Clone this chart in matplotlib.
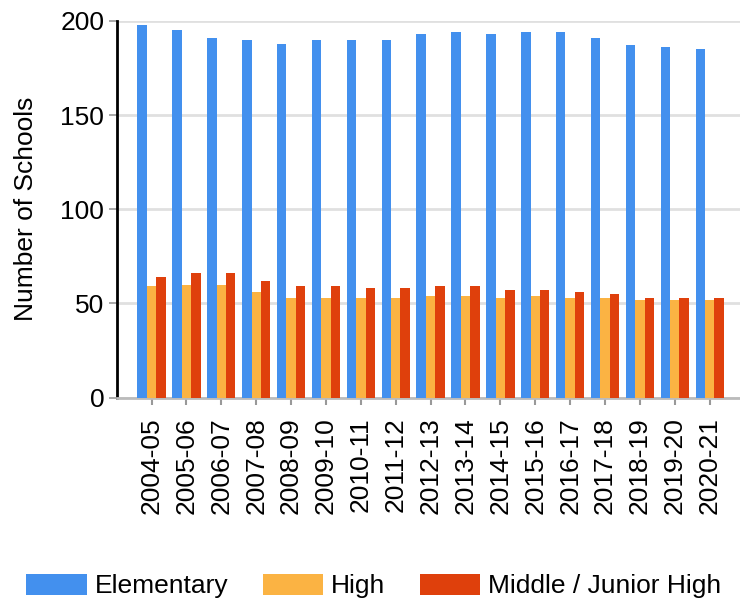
import matplotlib
matplotlib.use('Agg')

import numpy as np
import matplotlib.pyplot as plt

plt.rcParams['font.family'] = ['Liberation Sans', 'DejaVu Sans']

years = ['2004-05', '2005-06', '2006-07', '2007-08', '2008-09', '2009-10',
         '2010-11', '2011-12', '2012-13', '2013-14', '2014-15', '2015-16',
         '2016-17', '2017-18', '2018-19', '2019-20', '2020-21']
elementary = [198, 195, 191, 190, 188, 190, 190, 190, 193, 194, 193, 194, 194, 191, 187, 186, 185]
high = [59, 60, 60, 56, 53, 53, 53, 53, 54, 54, 53, 54, 53, 53, 52, 52, 52]
middle = [64, 66, 66, 62, 59, 59, 58, 58, 59, 59, 57, 57, 56, 55, 53, 53, 53]

series = [('Elementary', elementary, '#4390EE'),
          ('High', high, '#FBB343'),
          ('Middle / Junior High', middle, '#DF400C')]

fs = 19

fig = plt.figure(figsize=(7.4, 6.05), dpi=100)
ax = fig.add_axes([116.7 / 740, 1 - 397.5 / 605, (740 - 116.7) / 740, (397.5 - 21) / 605])

x = np.arange(len(years))
w = 0.27
for i, (name, vals, col) in enumerate(series):
    ax.bar(x + (i - 1) * w, vals, width=w, color=col, label=name, zorder=3)

ax.set_xlim(-1, 16.87)
ax.set_ylim(0, 200)
ax.set_yticks([0, 50, 100, 150, 200])
ax.set_xticks(x)
ax.set_xticklabels(years, rotation=90, fontsize=fs)
ax.tick_params(axis='y', labelsize=fs, length=6, width=1.2, color='#999999', pad=3)
ax.tick_params(axis='x', length=5, width=1.5, color='#999999', pad=9)
ax.grid(axis='y', color='#e0e0e0', linewidth=2, zorder=0)
ax.set_axisbelow(True)

for s in ['top', 'right']:
    ax.spines[s].set_visible(False)
ax.spines['left'].set_color('black')
ax.spines['left'].set_linewidth(2)
ax.spines['bottom'].set_color('#bbbbbb')
ax.spines['bottom'].set_linewidth(2)

ax.set_ylabel('Number of Schools', fontsize=fs)
ax.yaxis.set_label_coords(-(116.7 - 38) / (740 - 116.7), 0.5)

fig.legend(loc='center', bbox_to_anchor=(0.505, 1 - 586 / 605), ncol=3, frameon=False,
           fontsize=fs, handlelength=2.3, handleheight=0.87, columnspacing=1.3,
           handletextpad=0.3, borderpad=0)

fig.savefig('out.png', dpi=100)
plt.close('all')
